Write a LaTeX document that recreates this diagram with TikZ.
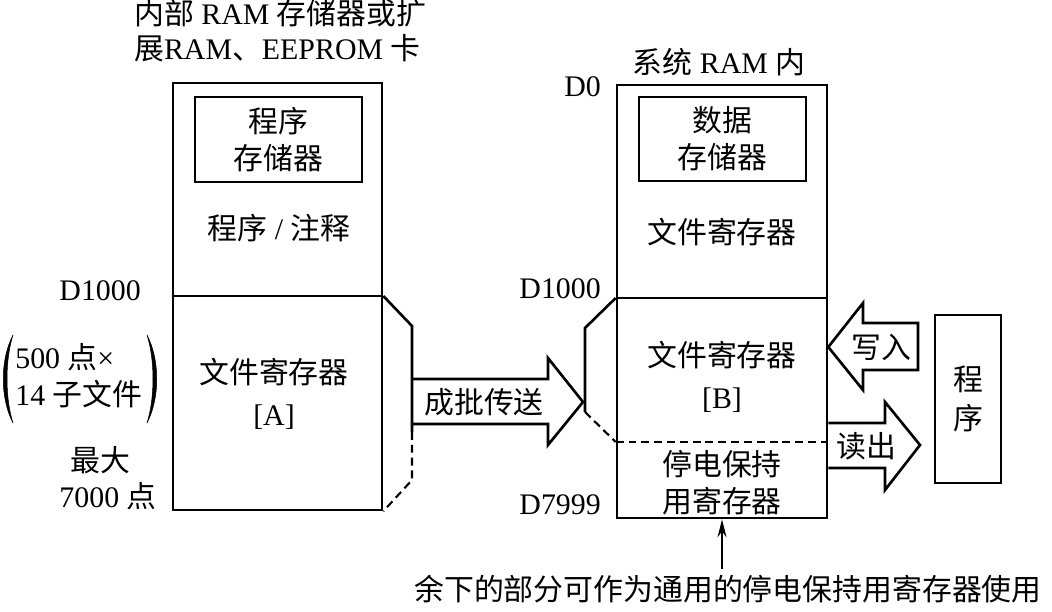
\documentclass[tikz,border=0pt]{standalone}
\usepackage{fontspec}
\setmainfont{Liberation Serif}
\newfontfamily\cjk{Noto Sans CJK SC}
\newcommand{\zh}[1]{{\cjk #1}}
\usetikzlibrary{arrows.meta, positioning, calc}

\begin{document}
\begin{tikzpicture}[
  x=0.02cm, y=-0.02cm,
  every node/.style={font=\fontsize{17pt}{21pt}\selectfont, align=center},
  membox/.style={rectangle, draw, line width=1.5pt, inner sep=0pt},
  wall/.style={line width=1.5pt},
  cut/.style={line width=1.2pt, dash pattern=on 4.5pt off 2.8pt},
  blockarrow/.style={line width=1.5pt, line join=miter},
  paren/.style={fill=black, draw=black, line width=0.3pt},
  pointer/.style={-{Stealth[length=0.36cm, width=0.18cm]}, line width=0.8pt}
]
  \useasboundingbox (0,0) rectangle (1052,612);

  % memory blocks
  \node[membox, minimum width=4.18cm, minimum height=8.54cm] (lmem) at (277.5,296.5) {};
  \node[membox, minimum width=4.2cm, minimum height=8.66cm] (rmem) at (722,301.5) {};
  \node[membox, minimum width=3.34cm, minimum height=1.7cm] (prgmem) at (278.5,139.5) {\zh{程序}\\\zh{存储器}};
  \node[membox, minimum width=3.34cm, minimum height=1.68cm] (datmem) at (722.5,139) {\zh{数据}\\\zh{存储器}};
  \node[membox, minimum width=1.32cm, minimum height=3.36cm] (prog) at (968,399) {\zh{程}\\[1pt]\zh{序}};

  \coordinate (lsplit) at (0,296);
  \coordinate (rsplit) at (0,298);
  \coordinate (rcut) at (0,442);
  \draw[wall] (lmem.west |- lsplit) -- (lmem.east |- lsplit);
  \draw[wall] (rmem.west |- rsplit) -- (rmem.east |- rsplit);
  \draw[cut] (rmem.west |- rcut) -- (rmem.east |- rcut);

  % bracket of the block being moved
  \draw[wall] (lmem.east |- lsplit) -- (412,326) -- (412,432);
  \draw[cut] (412,432) -- (412,480) -- (lmem.south east);
  \draw[wall] (rmem.west |- rsplit) -- (585,328) -- (585,412);
  \draw[cut] (585,412) -- (rmem.west |- rcut);

  % block arrows
  \draw[blockarrow] (412,379) -- (548,379) -- (548,358) -- (583,402) -- (548,445) -- (548,424) -- (412,424);
  \node (bulk) at (484,402) {\zh{成批传送}};
  \draw[blockarrow] (rmem.east |- 0,347) -- (863,303) -- (863,323) -- (918,323) -- (918,370) -- (863,370) -- (863,390) -- cycle;
  \node (write) at (881,347) {\zh{写入}};
  \draw[blockarrow] (rmem.east |- 0,423) -- (885,423) -- (885,402) -- (920,445) -- (885,490) -- (885,468) -- (rmem.east |- 0,468);
  \node (read) at (866,446) {\zh{读出}};

  % texts inside
  \node (comment) at (279,228) {\zh{程序} / \zh{注释}};
  \node (fileA) at (274,394) {\zh{文件寄存器}\\[3pt]{[A]}};
  \node (fileup) at (722,232) {\zh{文件寄存器}};
  \node (fileB) at (722,377) {\zh{文件寄存器}\\[3pt]{[B]}};
  \node (latch) at (722,483) {\fontsize{17pt}{19.5pt}\selectfont\zh{停电保持}\\\zh{用寄存器}};

  % titles and addresses
  \node[anchor=west] (ltitle) at (128,34) {\fontsize{17pt}{18.5pt}\selectfont
    \begin{tabular}{@{}l@{}}\zh{内部} RAM \zh{存储器或扩}\\\zh{展}RAM\zh{、}EEPROM \zh{卡}\end{tabular}};
  \node (rtitle) at (719,62) {\zh{系统} RAM \zh{内}};
  \node[anchor=east] (d0) at (607,87) {D0};
  \node[anchor=east] (ld1000) at (147,291) {D1000};
  \node[anchor=east] (rd1000) at (607,289) {D1000};
  \node[anchor=east] (d7999) at (607,505) {D7999};

  % file size in brackets
  \node[anchor=west, inner sep=0pt] (size) at (15,380) {\begin{tabular}{@{}l@{}}500 \zh{点}×\\14 \zh{子文件}\end{tabular}};
  \fill[paren] (13,335) .. controls (0,360) and (0,398) .. (13,423) .. controls (5,398) and (5,360) .. cycle;
  \fill[paren] (147,335) .. controls (160,360) and (160,398) .. (147,423) .. controls (155,398) and (155,360) .. cycle;
  \node (maxa) at (100,460) {\zh{最大}};
  \node (maxb) at (108,496) {7000 \zh{点}};

  \node (note) at (728,589) {\zh{余下的部分可作为通用的停电保持用寄存器使用}};
  \draw[pointer] (note.north -| rmem.south) -- (rmem.south);
\end{tikzpicture}
\end{document}
